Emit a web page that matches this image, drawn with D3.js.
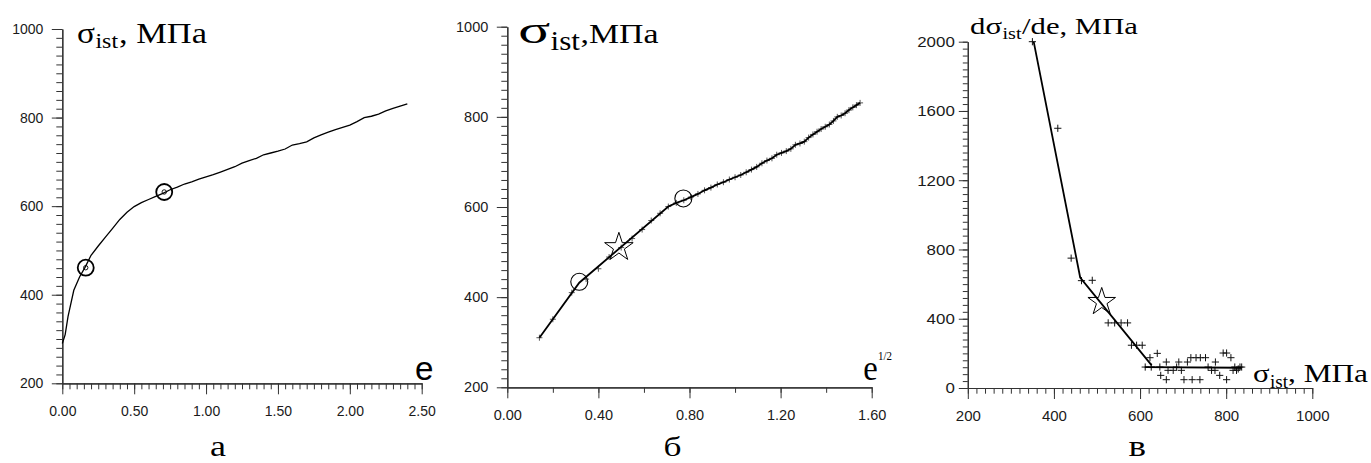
<!DOCTYPE html>
<html><head><meta charset="utf-8">
<script src="https://cdn.jsdelivr.net/npm/d3@7"></script>
<style>body{margin:0;background:#fff}svg{display:block}</style>
</head><body>
<svg id="chart" width="1371" height="463"></svg>
<script>
// ---------- Panel а : σ_ist vs e ----------
const strainA = [0,0.02,0.04,0.08,0.12,0.16,0.20,0.25,0.30,0.35,0.40,0.45,0.50,0.55,0.60,0.65,0.70,0.75,0.80,0.85,0.90,0.95,1.00,1.05,1.10,1.15,1.20,1.25,1.30,1.35,1.40,1.45,1.50,1.55,1.60,1.65,1.70,1.75,1.80,1.85,1.90,1.95,2.00,2.05,2.10,2.15,2.20,2.25,2.30,2.35,2.40];
const stressA = [290,310,351,410,440,463,489,510,530,550,570,586,599,608,615,622,629,637,643,650,655,661,666,671,677,683,689,697,703,708,716,720,724,729,738,741,745,754,761,767,773,778,783,791,800,803,808,815,821,826,831];
const circleA_e = [0.163, 0.709];
const circleA_s = [461, 632];
const ticksAX = [0,0.5,1.0,1.5,2.0,2.5];
const ticksAY = [200,400,600,800,1000];

// ---------- Panel б : σ_ist vs e^1/2 ----------
const rootB = [0.141,0.200,0.283,0.346,0.400,0.447,0.500,0.548,0.592,0.632,0.671,0.707,0.742,0.775,0.806,0.837,0.866,0.894,0.922,0.949,0.975,1.000,1.025,1.049,1.072,1.095,1.118,1.140,1.162,1.183,1.204,1.225,1.245,1.265,1.285,1.304,1.323,1.342,1.360,1.378,1.396,1.414,1.432,1.449,1.466,1.483,1.500,1.517,1.533,1.549];
const stressB = [310,351,410,440,463,489,510,530,550,570,586,601,609,615,622,629,637,643,650,655,661,666,671,677,683,689,697,703,708,716,720,724,729,738,741,745,754,761,767,773,778,783,791,800,803,808,815,821,826,831];
const fitB_root = [0.141, 0.316, 0.707];
const fitB_stress = [310, 432, 601];
const circleB_root = [0.316, 0.773];
const circleB_s = [434, 619];
const starB_root = [0.490];
const starB_s = [510.6];
const ticksBX = [0,0.4,0.8,1.2,1.6];
const ticksBY = [200,400,600,800,1000];

// ---------- Panel в : dσ_ist/de vs σ_ist ----------
const stressC = [350,409,440,464,489,526,541,556,571,580,592,605,623,640,612,626,646,648,661,661,665,677,685,690,696,702,710,718,721,730,739,740,752,758,766,774,775,785,793,801,801,811,816,824,832,820,828,836];
const slopeC  = [2000,1500,750,620,622,376,376,376,376,247,247,247,175,200,121,121,121,73,48,150,102,102,121,150,102,48,150,175,48,175,48,175,175,121,102,102,150,73,202,202,48,175,102,102,121,121,110,121];
const fitC1_s = [353, 461, 627];
const fitC1_d = [2000, 638, 131];
const fitC2_s = [611, 836];
const fitC2_d = [121, 117];
const starC_s = [511];
const starC_d = [497];
const ticksCX = [200,400,600,800,1000];
const ticksCY = [0,400,800,1200,1600,2000];

const SERIF = "'Liberation Serif','Times New Roman',serif";
const SANS = "'Liberation Sans',Arial,sans-serif";
const svg = d3.select('#chart');
svg.append('rect').attr('width',1371).attr('height',463).attr('fill','#fff');

function txt(s, x, y, size, fam, len, anchor) {
  const t = svg.append('text').attr('x', x).attr('y', y)
    .attr('font-size', size).attr('font-family', fam).attr('font-weight', 'normal')
    .attr('fill', '#000').text(s);
  if (len) t.attr('textLength', len).attr('lengthAdjust', 'spacingAndGlyphs');
  if (anchor) t.attr('text-anchor', anchor);
  return t;
}

function axes(x, y, cfg) {
  const x0 = x.range()[0], y0 = y.range()[0];
  const g = svg.append('g');
  g.append('g').attr('transform', `translate(0,${y0})`)
    .call(d3.axisBottom(x).tickValues(cfg.minX).tickSize(cfg.minLenX).tickFormat('').tickSizeOuter(0));
  g.append('g').attr('transform', `translate(${x0},0)`)
    .call(d3.axisLeft(y).tickValues(cfg.minY).tickSize(cfg.minLenY).tickFormat('').tickSizeOuter(0));
  const ax = g.append('g').attr('transform', `translate(0,${y0})`)
    .call(d3.axisBottom(x).tickValues(cfg.majX).tickSize(cfg.majLenX).tickPadding(cfg.padX).tickFormat(cfg.fmtX).tickSizeOuter(0));
  const ay = g.append('g').attr('transform', `translate(${x0},0)`)
    .call(d3.axisLeft(y).tickValues(cfg.majY).tickSize(cfg.majLenY).tickPadding(cfg.padY).tickFormat(cfg.fmtY).tickSizeOuter(0));
  g.selectAll('path.domain').attr('stroke', '#333').attr('stroke-width', 1.2);
  g.selectAll('.tick line').attr('stroke', '#333').attr('stroke-width', 1);
  g.selectAll('text').attr('font-family', SANS).attr('font-size', cfg.fs).attr('fill', '#1a1a1a');
  if (cfg.lenY) ay.selectAll('text').attr('textLength', d => cfg.lenY * String(cfg.fmtY(d)).length).attr('lengthAdjust', 'spacingAndGlyphs');
}

function plus(cx, cy, r) { return `M${cx - r},${cy}H${cx + r}M${cx},${cy - r}V${cy + r}`; }

// ======== Panel а ========
{
  const x = d3.scaleLinear([0, 2.5], [62.3, 421.7]);
  const y = d3.scaleLinear([200, 1000], [383.3, 29]);
  axes(x, y, {
    minX: d3.range(0, 2.5001, 0.05), minY: d3.range(200, 1001, 20),
    majX: ticksAX, majY: ticksAY, minLenX: 6, minLenY: 6, majLenX: 11, majLenY: 10.5,
    padX: 11.5, padY: 8.5, fmtX: d3.format('.2f'), fmtY: d3.format('d'), fs: 14
  });
  const pts = strainA.map((e, i) => [e, stressA[i]]);
  svg.append('path').attr('d', d3.line().x(d => x(d[0])).y(d => y(d[1]))(pts))
    .attr('fill', 'none').attr('stroke', '#000').attr('stroke-width', 1.3);
  circleA_e.forEach((e, i) => {
    svg.append('circle').attr('cx', x(e)).attr('cy', y(circleA_s[i])).attr('r', 8)
      .attr('fill', 'none').attr('stroke', '#000').attr('stroke-width', 1.8);
    svg.append('circle').attr('cx', x(e)).attr('cy', y(circleA_s[i])).attr('r', 2.2)
      .attr('fill', 'none').attr('stroke', '#000').attr('stroke-width', 0.9);
  });
  txt('σ', 77, 43.3, 29, SERIF, 18);
  txt('ist', 95.5, 48, 21, SERIF, 22.5);
  txt(', МПа', 119, 43.3, 30, SERIF, 88);
  txt('e', 415, 380, 34, SANS, 18.5);
  txt('а', 210, 456, 30, SERIF, 16);
}

// ======== Panel б ========
{
  const x = d3.scaleLinear([0, 1.6], [507.3, 871.7]);
  const y = d3.scaleLinear([200, 1000], [387.3, 26.7]);
  axes(x, y, {
    minX: d3.range(0, 1.6001, 0.2), minY: d3.range(200, 1001, 20),
    majX: ticksBX, majY: ticksBY, minLenX: 5.5, minLenY: 6, majLenX: 11, majLenY: 10.5,
    padX: 11, padY: 8.5, fmtX: d3.format('.2f'), fmtY: d3.format('d'), fs: 14.5
  });
  const pts = rootB.map((v, i) => [v, stressB[i]]);
  svg.append('path').attr('d', pts.map(d => plus(x(d[0]), y(d[1]), 3)).join(''))
    .attr('fill', 'none').attr('stroke', '#555').attr('stroke-width', 1);
  const fit = fitB_root.map((v, i) => [v, fitB_stress[i]]).concat(pts.filter(d => d[0] > fitB_root[2]));
  svg.append('path').attr('d', d3.line().x(d => x(d[0])).y(d => y(d[1]))(fit))
    .attr('fill', 'none').attr('stroke', '#000').attr('stroke-width', 1.8);
  circleB_root.forEach((v, i) => {
    svg.append('circle').attr('cx', x(v)).attr('cy', y(circleB_s[i])).attr('r', 8.5)
      .attr('fill', 'none').attr('stroke', '#000').attr('stroke-width', 1.1);
  });
  const R = 15;
  starB_root.forEach((v, i) => {
    svg.append('path').attr('d', d3.symbol(d3.symbolStar, R * R / 0.8908130915292852)())
      .attr('transform', `translate(${x(v)},${y(starB_s[i])})`)
      .attr('fill', 'none').attr('stroke', '#000').attr('stroke-width', 1);
  });
  txt('σ', 518.3, 43.3, 38, SERIF, 32);
  txt('ist', 550.5, 50, 27, SERIF, 29.5);
  txt(',МПа', 580.5, 42.7, 27, SERIF, 78);
  txt('e', 863.3, 380, 36, SERIF, 14.5);
  txt('1/2', 878, 359.5, 12, SERIF, 14);
  txt('б', 663.5, 456, 28, SERIF, 18);
}

// ======== Panel в ========
{
  const x = d3.scaleLinear([200, 1000], [967.8, 1312.3]);
  const y = d3.scaleLinear([0, 2000], [388, 41.7]);
  axes(x, y, {
    minX: d3.range(200, 1001, 20), minY: d3.range(0, 2001, 40),
    majX: ticksCX, majY: ticksCY, minLenX: 5.7, minLenY: 5, majLenX: 11, majLenY: 9,
    padX: 11, padY: 4, fmtX: d3.format('d'), fmtY: d3.format('d'), fs: 15,
    lenY: 9.4
  });
  const pts = stressC.map((s, i) => [s, slopeC[i]]);
  svg.append('path').attr('d', pts.map(d => plus(x(d[0]), y(d[1]), 3.6)).join(''))
    .attr('fill', 'none').attr('stroke', '#111').attr('stroke-width', 1);
  const line = d3.line().x(d => x(d[0])).y(d => y(d[1]));
  svg.append('path').attr('d', line(fitC1_s.map((s, i) => [s, fitC1_d[i]])))
    .attr('fill', 'none').attr('stroke', '#000').attr('stroke-width', 1.8);
  svg.append('path').attr('d', line(fitC2_s.map((s, i) => [s, fitC2_d[i]])))
    .attr('fill', 'none').attr('stroke', '#000').attr('stroke-width', 1.8);
  const R = 14.5;
  starC_s.forEach((s, i) => {
    svg.append('path').attr('d', d3.symbol(d3.symbolStar, R * R / 0.8908130915292852)())
      .attr('transform', `translate(${x(s)},${y(starC_d[i])})`)
      .attr('fill', 'none').attr('stroke', '#000').attr('stroke-width', 1);
  });
  txt('dσ', 970, 33.5, 24, SERIF, 32);
  txt('ist', 1002.5, 38.5, 17, SERIF, 19);
  txt('/de, МПа', 1022, 33.5, 24, SERIF, 116);
  txt('σ', 1253, 381.7, 26, SERIF, 16.5);
  txt('ist', 1270, 387.5, 19, SERIF, 18);
  txt(', МПа', 1288, 381.7, 26, SERIF, 80);
  txt('в', 1128.5, 456, 30, SERIF, 17.5);
}
</script>
</body></html>
